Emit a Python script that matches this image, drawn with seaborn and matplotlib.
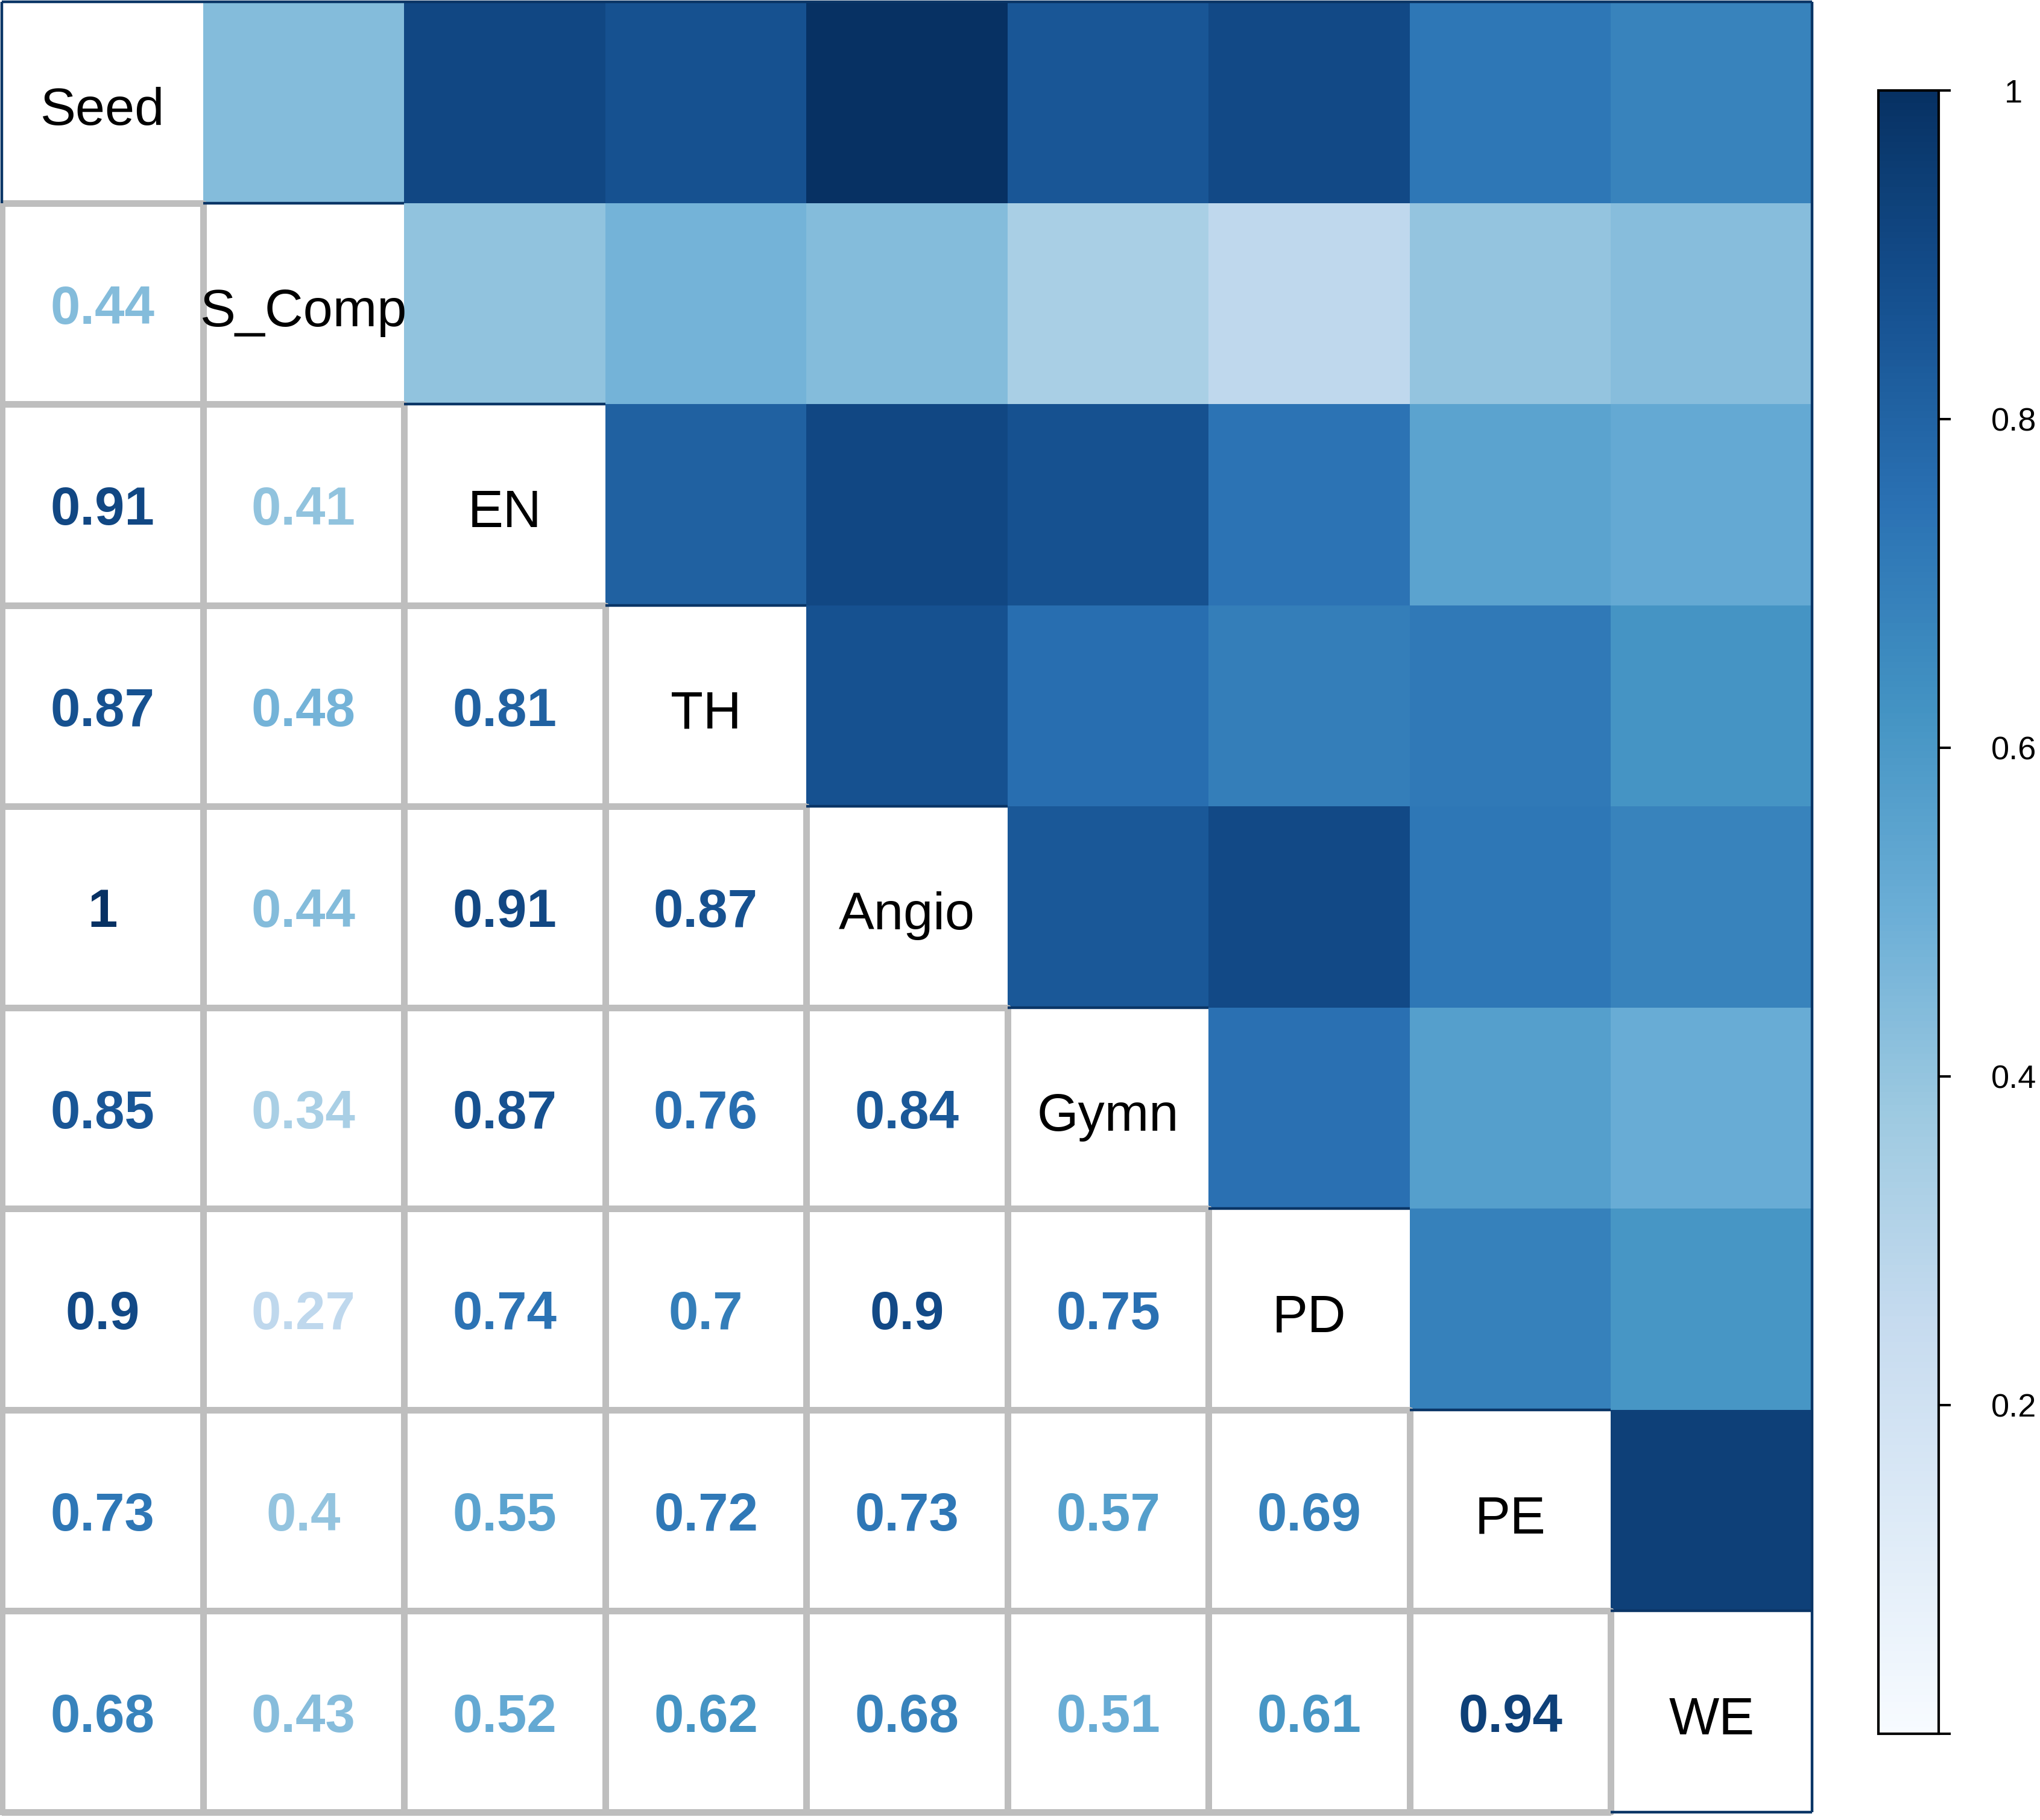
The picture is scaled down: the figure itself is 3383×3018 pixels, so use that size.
import numpy as np
import pandas as pd
import matplotlib
matplotlib.use("Agg")
import matplotlib.pyplot as plt
import seaborn as sns
from matplotlib.colors import ListedColormap, LinearSegmentedColormap, Normalize, to_rgba

# ---- data ----
labels = ["Seed", "S_Comp", "EN", "TH", "Angio", "Gymn", "PD", "PE", "WE"]
row_S_Comp = [0.44]
row_EN = [0.91, 0.41]
row_TH = [0.87, 0.48, 0.81]
row_Angio = [1, 0.44, 0.91, 0.87]
row_Gymn = [0.85, 0.34, 0.87, 0.76, 0.84]
row_PD = [0.9, 0.27, 0.74, 0.7, 0.9, 0.75]
row_PE = [0.73, 0.4, 0.55, 0.72, 0.73, 0.57, 0.69]
row_WE = [0.68, 0.43, 0.52, 0.62, 0.68, 0.51, 0.61, 0.94]
cbar_ticks = [0, 0.2, 0.4, 0.6, 0.8, 1]
cbar_ticklabels = ["", "0.2", "0.4", "0.6", "0.8", "1"]

lower_rows = [[], row_S_Comp, row_EN, row_TH, row_Angio, row_Gymn, row_PD, row_PE, row_WE]
n = len(labels)
mat = np.ones((n, n))
for i, r in enumerate(lower_rows):
    for j, v in enumerate(r):
        mat[i, j] = v
        mat[j, i] = v
df = pd.DataFrame(mat, index=labels, columns=labels)

# ---- style ----
sns.set_style("white")
plt.rcParams["font.family"] = ["Liberation Sans", "DejaVu Sans"]

blues_colors = ["#F7FBFF", "#DEEBF7", "#C6DBEF", "#9ECAE1", "#6BAED6",
                "#4393C3", "#2A71B3", "#15508F", "#073163"]
cmap = LinearSegmentedColormap.from_list("blues_ref", blues_colors, N=256)
norm = Normalize(0, 1)

W, H = 3383, 3018
fig = plt.figure(figsize=(W / 100, H / 100), dpi=100)
ax = fig.add_axes([3 / W, 1 - 3005 / H, 3002 / W, 3002 / H])
cax = fig.add_axes([3115 / W, 1 - 2875 / H, 100 / W, 2725 / H])

upper_mask = np.tril(np.ones((n, n), dtype=bool))
lower_mask = np.triu(np.ones((n, n), dtype=bool))

sns.heatmap(df, mask=upper_mask, cmap=cmap, vmin=0, vmax=1, ax=ax, cbar_ax=cax,
            xticklabels=False, yticklabels=False, linewidths=0)
sns.heatmap(df, mask=lower_mask, cmap=ListedColormap(["white"]), cbar=False, ax=ax,
            xticklabels=False, yticklabels=False, linewidths=6.5, linecolor="#BEBEBE")

# only the lower-triangle cells keep a grey border
lower_mesh = ax.collections[1]
ec = np.zeros((n * n, 4))
grey = to_rgba("#BEBEBE")
for i in range(n):
    for j in range(n):
        if not lower_mask[i, j]:
            ec[i * n + j] = grey
lower_mesh.set_edgecolor(ec)
for coll in ax.collections:
    coll.set_clip_on(False)

for sp in ax.spines.values():
    sp.set_visible(False)

# diagonal labels
for i, lab in enumerate(labels):
    ax.text(i + 0.5, i + 0.612, lab, ha="center", va="baseline", fontsize=63.5, color="black")

# lower triangle numbers
for i in range(n):
    for j in range(i):
        v = mat[i, j]
        ax.text(j + 0.5, i + 0.6, f"{v:g}", ha="center", va="baseline", fontsize=64,
                fontweight="bold", color=cmap(norm(v)))

# navy outline of upper triangle
navy = "#0A3566"
lw = 3.2
ax.plot([0, n], [0, 0], color=navy, lw=lw, clip_on=False, solid_capstyle="butt")
ax.plot([n, n], [0, n], color=navy, lw=lw, clip_on=False, solid_capstyle="butt")
ax.plot([0, 0], [0, 1], color=navy, lw=lw, clip_on=False, solid_capstyle="butt")
ax.plot([n - 1, n], [n, n], color=navy, lw=lw, clip_on=False, solid_capstyle="butt")
for i in range(n - 1):
    ax.plot([i + 1, i + 2], [i + 1, i + 1], color=navy, lw=lw, clip_on=False,
            solid_capstyle="butt")

# colorbar
cbar = ax.collections[0].colorbar
cbar.outline.set_linewidth(3)
cbar.outline.set_edgecolor("black")
cax.set_yticks(cbar_ticks)
cax.set_yticklabels(cbar_ticklabels)
cax.tick_params(axis="y", length=14.4, width=2.9, pad=75, labelsize=39, colors="black")
for lbl in cax.get_yticklabels():
    lbl.set_horizontalalignment("center")

fig.savefig("out.png", dpi=100, facecolor="white")
